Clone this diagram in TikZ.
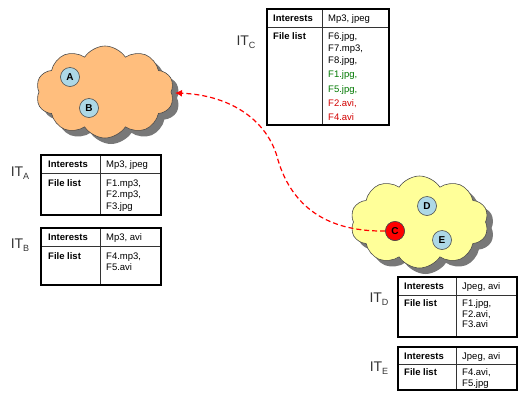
\documentclass[tikz,border=0pt]{standalone}
\usepackage{fontspec}
\setmainfont{Liberation Sans}
\usetikzlibrary{shapes.symbols,arrows.meta}
\definecolor{cloudorange}{RGB}{255,190,125}
\definecolor{cloudyellow}{RGB}{255,255,153}
\definecolor{cloudgray}{RGB}{120,120,120}
\definecolor{peerblue}{RGB}{173,216,230}
\definecolor{fgreen}{RGB}{0,120,0}
\definecolor{fred}{RGB}{210,0,0}
\begin{document}
\begin{tikzpicture}[x=1pt,y=-1pt,
 cloudbox/.style={cloud, cloud puffs=10, cloud puff arc=115, aspect=1.5, draw=black!70, line width=0.6pt,
   minimum width=138pt, minimum height=92pt, inner sep=0pt},
 cloudshadow/.style={cloudbox, draw=none, fill=cloudgray},
 peer/.style={circle, draw=black!70, line width=0.6pt, fill=peerblue, minimum size=19pt, inner sep=0pt,
   font=\fontsize{10}{10}\selectfont\bfseries},
 tabtxt/.style={anchor=base west, inner sep=0pt, font=\fontsize{9.5}{11}\selectfont},
 tabhead/.style={anchor=base west, inner sep=0pt, font=\fontsize{9.5}{11}\selectfont\bfseries},
 tblframe/.style={draw=black, line width=2pt},
 tblrule/.style={draw=black!80, line width=0.6pt},
 itlabel/.style={inner sep=0pt, text=black!80},
 link/.style={draw=red, dash pattern=on 5pt off 3pt, line width=1.2pt, -{Latex[length=7pt,width=7pt]}}
]
\useasboundingbox (0,0) rectangle (522,397);

% clouds with shadows
\node[cloudshadow] (shL) at (111,98) {};
\node[cloudbox, fill=cloudorange] (cloudL) at (105,92) {};
\node[cloudshadow] (shR) at (425.5,228) {};
\node[cloudbox, fill=cloudyellow] (cloudR) at (419.5,222) {};

% link
\coordinate (tip) at (175,93);
\node[peer, fill=red] (C) at (395,231) {C};
\draw[link] (C.west) .. controls (320,232) and (290,200) .. (278,160)
                     .. controls (268,120) and (230,95) .. (tip);
\node[peer, fill=red] (C2) at (395,231) {C};

% peers
\node[peer] (A) at (70,77) {A};
\node[peer] (B) at (89,108) {B};
\node[peer] (D) at (427,206) {D};
\node[peer] (E) at (442,240) {E};

% IT labels
\node[itlabel] (lC) at (246,42) {\fontsize{14}{14}\selectfont IT\raisebox{-3pt}{\fontsize{9}{9}\selectfont C}};
\node[itlabel] (lA) at (20,173) {\fontsize{14}{14}\selectfont IT\raisebox{-3pt}{\fontsize{9}{9}\selectfont A}};
\node[itlabel] (lB) at (20,245) {\fontsize{14}{14}\selectfont IT\raisebox{-3pt}{\fontsize{9}{9}\selectfont B}};
\node[itlabel] (lD) at (379,299) {\fontsize{14}{14}\selectfont IT\raisebox{-3pt}{\fontsize{9}{9}\selectfont D}};
\node[itlabel] (lE) at (379,368) {\fontsize{14}{14}\selectfont IT\raisebox{-3pt}{\fontsize{9}{9}\selectfont E}};

% table C
\draw[tblrule] (267,27) -- (389,27) (322,9) -- (322,125);
\draw[tblframe] (267,9) rectangle (389,125);
\node[tabhead] (cI) at (273,21.4) {Interests};
\node[tabtxt]  (cIv) at (328,21.4) {Mp3, jpeg};
\node[tabhead] (cF) at (273,39.4) {File list};
\node[tabtxt]  (c1) at (328,39.4) {F6.jpg,};
\node[tabtxt]  (c2) at (328,51.4) {F7.mp3,};
\node[tabtxt]  (c3) at (328,63.4) {F8.jpg,};
\node[tabtxt, text=fgreen] (c4) at (328,77.4) {F1.jpg,};
\node[tabtxt, text=fgreen] (c5) at (328,92.4) {F5.jpg,};
\node[tabtxt, text=fred]   (c6) at (328,106.4) {F2.avi,};
\node[tabtxt, text=fred]   (c7) at (328,120.4) {F4.avi};

% table A
\draw[tblrule] (41,173) -- (161,173) (100,155) -- (100,215);
\draw[tblframe] (41,155) rectangle (161,215);
\node[tabhead] (aI) at (48,167.4) {Interests};
\node[tabtxt]  (aIv) at (106,167.4) {Mp3, jpeg};
\node[tabhead] (aF) at (48,186.4) {File list};
\node[tabtxt]  (a1) at (106,186.4) {F1.mp3,};
\node[tabtxt]  (a2) at (106,197.9) {F2.mp3,};
\node[tabtxt]  (a3) at (106,209.4) {F3.jpg};

% table B
\draw[tblrule] (41,246) -- (161,246) (100,228) -- (100,285);
\draw[tblframe] (41,228) rectangle (161,285);
\node[tabhead] (bI) at (48,240.4) {Interests};
\node[tabtxt]  (bIv) at (106,240.4) {Mp3, avi};
\node[tabhead] (bF) at (48,259.4) {File list};
\node[tabtxt]  (b1) at (106,259.4) {F4.mp3,};
\node[tabtxt]  (b2) at (106,270.9) {F5.avi};

% table D
\draw[tblrule] (398,295) -- (517,295) (456,277) -- (456,337);
\draw[tblframe] (398,277) rectangle (517,337);
\node[tabhead] (dI) at (404,289.4) {Interests};
\node[tabtxt]  (dIv) at (462,289.4) {Jpeg, avi};
\node[tabhead] (dF) at (404,306.9) {File list};
\node[tabtxt]  (d1) at (462,306.9) {F1.jpg,};
\node[tabtxt]  (d2) at (462,317.4) {F2.avi,};
\node[tabtxt]  (d3) at (462,327.9) {F3.avi};

% table E
\draw[tblrule] (398,364) -- (517,364) (456,347) -- (456,390);
\draw[tblframe] (398,347) rectangle (517,390);
\node[tabhead] (eI) at (404,359) {Interests};
\node[tabtxt]  (eIv) at (462,359) {Jpeg, avi};
\node[tabhead] (eF) at (404,375.9) {File list};
\node[tabtxt]  (e1) at (462,375.9) {F4.avi,};
\node[tabtxt]  (e2) at (462,386.4) {F5.jpg};
\end{tikzpicture}
\end{document}
